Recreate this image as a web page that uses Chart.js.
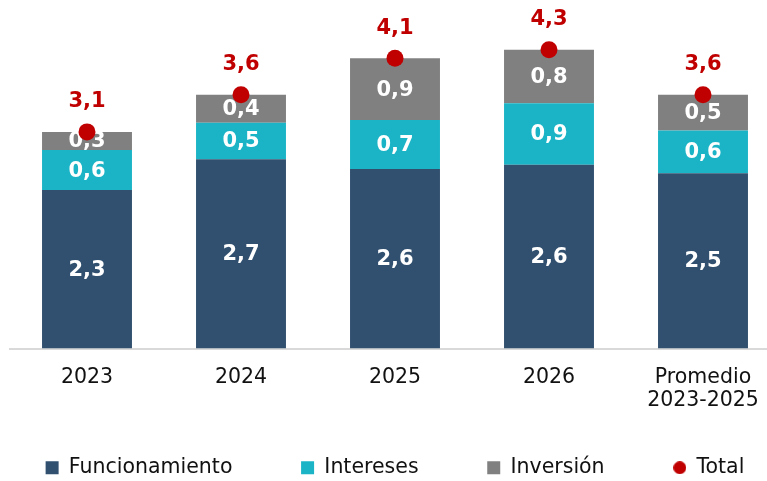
<!DOCTYPE html>
<html>
<head>
<meta charset="utf-8">
<script src="https://cdn.jsdelivr.net/npm/chart.js@4.4.0/dist/chart.umd.min.js"></script>
<style>
html,body{margin:0;padding:0;background:#fff;overflow:hidden;}
#wrap{width:790px;height:488px;position:relative;}
</style>
</head>
<body>
<div id="wrap"><canvas id="c"></canvas></div>
<script>
const categories = ['2023', '2024', '2025', '2026', ['Promedio', '2023-2025']];
const funcionamiento = [2.26, 2.70, 2.56, 2.62, 2.50];
const intereses = [0.57, 0.52, 0.70, 0.88, 0.61];
const inversion = [0.26, 0.40, 0.88, 0.76, 0.51];
const total = [3.09, 3.62, 4.14, 4.26, 3.62];
const seriesNames = ['Funcionamiento', 'Intereses', 'Inversión', 'Total'];

const FONT = '"DejaVu Sans", Verdana, sans-serif';
const fmt = v => v.toFixed(1).replace('.', ',');
const GAP = '\u00A0'.repeat(9);

// small red circle for the legend "Total" marker
const dotImg = document.createElement('canvas');
dotImg.width = 13; dotImg.height = 13;
(function(){ const g = dotImg.getContext('2d'); g.fillStyle = '#C00000'; g.beginPath(); g.arc(6.5, 6.5, 6.5, 0, Math.PI * 2); g.fill(); })();

const labelPlugin = {
  id: 'valueLabels',
  afterDatasetDraw(chart, args) {
    const meta = args.meta;
    if (meta.type !== 'bar') return;
    const ds = chart.data.datasets[args.index];
    const ctx = chart.ctx;
    ctx.save();
    ctx.textAlign = 'center';
    ctx.textBaseline = 'middle';
    ctx.font = 'bold 21px ' + FONT;
    ctx.fillStyle = '#ffffff';
    meta.data.forEach((el, i) => {
      ctx.fillText(fmt(ds.data[i]), el.x, (el.y + el.base) / 2 + 1);
    });
    ctx.restore();
  },
  afterDatasetsDraw(chart) {
    const ctx = chart.ctx;
    ctx.save();
    ctx.textAlign = 'center';
    ctx.textBaseline = 'middle';
    ctx.font = 'bold 21px ' + FONT;
    ctx.fillStyle = '#C00000';
    chart.data.datasets.forEach((ds, di) => {
      const meta = chart.getDatasetMeta(di);
      if (meta.type !== 'line') return;
      meta.data.forEach((el, i) => {
        ctx.fillText(fmt(ds.data[i]), el.x, el.y - 30);
      });
    });
    ctx.restore();
  }
};

new Chart(document.getElementById('c'), {
  type: 'bar',
  data: {
    labels: categories,
    datasets: [
      { label: seriesNames[0], data: funcionamiento, backgroundColor: '#31506F', stack: 's', order: 1 },
      { label: seriesNames[1], data: intereses, backgroundColor: '#1BB4C6', stack: 's', order: 1 },
      { label: seriesNames[2], data: inversion, backgroundColor: '#808080', stack: 's', order: 1 },
      { label: seriesNames[3], data: total, type: 'line', showLine: false, stack: 'total',
        backgroundColor: '#C00000', borderColor: '#C00000', pointRadius: 8.5, pointHoverRadius: 8.5,
        pointBorderWidth: 0, order: 0 }
    ]
  },
  options: {
    responsive: true,
    maintainAspectRatio: false,
    animation: false,
    layout: { padding: { left: 10, right: 10, top: 12, bottom: 0 } },
    datasets: { bar: { categoryPercentage: 1, barPercentage: 0.584, borderWidth: 0 } },
    scales: {
      x: {
        stacked: true,
        grid: { display: false, drawTicks: false },
        border: { display: true, color: '#D9D9D9', width: 2 },
        ticks: { color: '#111111', font: { family: FONT, size: 20.5, lineHeight: 1.15 }, padding: 17, maxRotation: 0, autoSkip: false },
        afterFit(scale) { scale.height = 99; }
      },
      y: {
        stacked: true,
        display: false,
        min: 0,
        max: 4.8
      }
    },
    plugins: {
      tooltip: { enabled: false },
      legend: {
        position: 'bottom',
        labels: {
          usePointStyle: true,
          boxWidth: 13,
          boxHeight: 13,
          padding: 10,
          color: '#111111',
          font: { family: FONT, size: 20.5 },
          sort: (a, b) => a.datasetIndex - b.datasetIndex,
          generateLabels(chart) {
            const items = Chart.defaults.plugins.legend.labels.generateLabels(chart);
            items.forEach(it => {
              if (it.datasetIndex === 3) { it.pointStyle = dotImg; }
              else { it.pointStyle = 'rect'; it.lineWidth = 0; it.strokeStyle = 'rgba(0,0,0,0)'; it.text = it.text + GAP; }
            });
            return items;
          }
        }
      }
    }
  },
  plugins: [labelPlugin]
});
</script>
</body>
</html>
